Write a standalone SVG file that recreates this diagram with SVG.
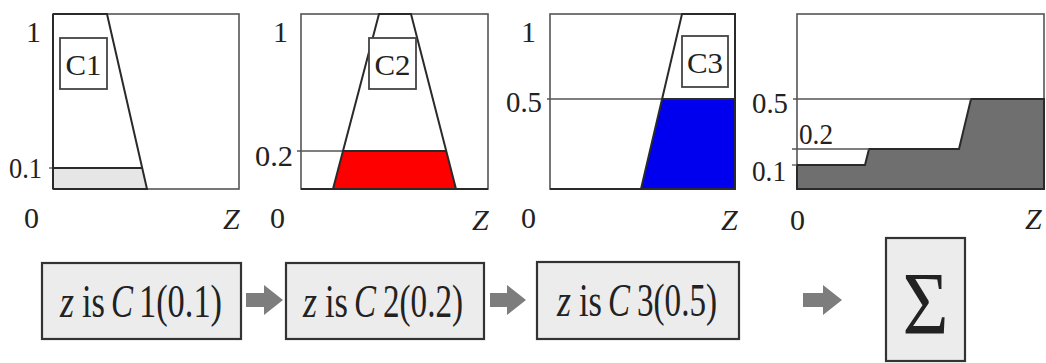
<svg xmlns="http://www.w3.org/2000/svg" width="1046" height="363" viewBox="0 0 1046 363">
<style>
.frame{fill:#fff;stroke:#555;stroke-width:1.6}
.mf{fill:none;stroke:#2a2a2a;stroke-width:2}
.thin{stroke:#555;stroke-width:1.3;fill:none}
.lab{font-size:30px}
.it{font-style:italic}
.tag{fill:#fff;stroke:#444;stroke-width:1.8}
.tagt{font-size:30px}
.box{fill:#ececec;stroke:#333;stroke-width:2.2}
.bt{font-size:46px}
.arr{fill:#7d7d7d}
</style>
<g font-family="Liberation Serif, Tinos, Times New Roman, Times, Nimbus Roman, FreeSerif, DejaVu Serif, serif" fill="#222">
<g id="panel1">
<rect class="frame" x="53" y="14" width="186" height="175"/>
<polygon points="53,168 142,168 147,189 53,189" fill="#e6e6e6"/>
<line class="thin" x1="49" y1="168" x2="53" y2="168"/>
<line class="mf" x1="53" y1="168" x2="142" y2="168"/>
<polyline class="mf" points="53,14 107,14 147,189 53,189"/>
<line class="mf" x1="53" y1="14" x2="53" y2="189"/>
<rect class="tag" x="60" y="38" width="47" height="51"/>
<text class="tagt" x="83.5" y="75" text-anchor="middle" textLength="36" lengthAdjust="spacingAndGlyphs">C1</text>
<text class="lab" x="26" y="42">1</text>
<text class="lab" x="9" y="178" textLength="33" lengthAdjust="spacingAndGlyphs">0.1</text>
<text class="lab" x="24" y="228">0</text>
<text class="lab it" x="223" y="229">Z</text>
</g>
<g id="panel2">
<rect class="frame" x="301" y="14" width="187" height="175"/>
<polygon points="343,151 446,151 456,189 333,189" fill="#ff0000"/>
<line class="thin" x1="297" y1="151" x2="343" y2="151"/>
<line class="mf" x1="343" y1="151" x2="446" y2="151"/>
<polyline class="mf" points="333,189 379,14 411,14 456,189"/>
<line class="mf" x1="301" y1="189" x2="488" y2="189"/>
<rect class="tag" x="369" y="38" width="47" height="51"/>
<text class="tagt" x="392.5" y="75" text-anchor="middle" textLength="36" lengthAdjust="spacingAndGlyphs">C2</text>
<text class="lab" x="273" y="42">1</text>
<text class="lab" x="255" y="166" textLength="38" lengthAdjust="spacingAndGlyphs">0.2</text>
<text class="lab" x="270" y="228">0</text>
<text class="lab it" x="472" y="230">Z</text>
</g>
<g id="panel3">
<rect class="frame" x="550" y="14" width="185" height="175"/>
<polygon points="662,99 735,99 735,189 641,189" fill="#0000ee"/>
<line class="thin" x1="547" y1="99" x2="662" y2="99"/>
<line class="mf" x1="662" y1="99" x2="735" y2="99"/>
<polyline class="mf" points="641,189 682,14 735,14 735,189 550,189"/>
<rect class="tag" x="682" y="36" width="46" height="51"/>
<text class="tagt" x="705" y="73" text-anchor="middle" textLength="36" lengthAdjust="spacingAndGlyphs">C3</text>
<text class="lab" x="521" y="42">1</text>
<text class="lab" x="506" y="112" textLength="36" lengthAdjust="spacingAndGlyphs">0.5</text>
<text class="lab" x="521" y="228">0</text>
<text class="lab it" x="721" y="230">Z</text>
</g>
<g id="panel4">
<rect class="frame" x="797" y="14" width="247" height="175"/>
<polygon points="797,189 797,165 865,165 869,149 959,149 971,99 1044,99 1044,189" fill="#6f6f6f" stroke="#2a2a2a" stroke-width="2"/>
<line class="thin" x1="793" y1="99" x2="971" y2="99"/>
<line class="thin" x1="792" y1="149" x2="869" y2="149"/>
<line class="thin" x1="792" y1="165" x2="797" y2="165"/>
<line class="mf" x1="797" y1="189" x2="1044" y2="189"/>
<text class="lab" x="752" y="113" textLength="36" lengthAdjust="spacingAndGlyphs">0.5</text>
<text class="lab" x="799" y="144" textLength="34" lengthAdjust="spacingAndGlyphs">0.2</text>
<text class="lab" x="752" y="181" textLength="34" lengthAdjust="spacingAndGlyphs">0.1</text>
<text class="lab" x="790" y="230">0</text>
<text class="lab it" x="1025" y="229">Z</text>
</g>
<g id="rule1">
<rect class="box" x="42" y="263" width="199" height="76"/>
<text class="bt it" x="60" y="317" textLength="14" lengthAdjust="spacingAndGlyphs">z</text>
<text class="bt" x="82" y="317" textLength="23" lengthAdjust="spacingAndGlyphs">is</text>
<text class="bt it" x="111" y="317" textLength="22" lengthAdjust="spacingAndGlyphs">C</text>
<text class="bt" x="139" y="317" textLength="83" lengthAdjust="spacingAndGlyphs">1(0.1)</text>
</g>
<g id="rule2">
<rect class="box" x="286" y="263" width="198" height="76"/>
<text class="bt it" x="303" y="317" textLength="14" lengthAdjust="spacingAndGlyphs">z</text>
<text class="bt" x="325" y="317" textLength="23" lengthAdjust="spacingAndGlyphs">is</text>
<text class="bt it" x="354" y="317" textLength="22" lengthAdjust="spacingAndGlyphs">C</text>
<text class="bt" x="383" y="317" textLength="80" lengthAdjust="spacingAndGlyphs">2(0.2)</text>
</g>
<g id="rule3">
<rect class="box" x="537" y="262" width="202" height="77"/>
<text class="bt it" x="557" y="316" textLength="14" lengthAdjust="spacingAndGlyphs">z</text>
<text class="bt" x="579" y="316" textLength="23" lengthAdjust="spacingAndGlyphs">is</text>
<text class="bt it" x="608" y="316" textLength="22" lengthAdjust="spacingAndGlyphs">C</text>
<text class="bt" x="637" y="316" textLength="80" lengthAdjust="spacingAndGlyphs">3(0.5)</text>
</g>
<g id="sum">
<rect class="box" x="886" y="238" width="79" height="123"/>
<text x="925.5" y="333" text-anchor="middle" font-size="88" textLength="46" lengthAdjust="spacingAndGlyphs">Σ</text>
</g>
<g id="connectors">
<polygon class="arr" points="246,293 264,293 264,285 283,300 264,315 264,307 246,307"/>
<polygon class="arr" points="490,293 507,293 507,285 526,300 507,315 507,307 490,307"/>
<polygon class="arr" points="803,293 823,293 823,285 842,300 823,315 823,307 803,307"/>
</g>
</g>
</svg>
